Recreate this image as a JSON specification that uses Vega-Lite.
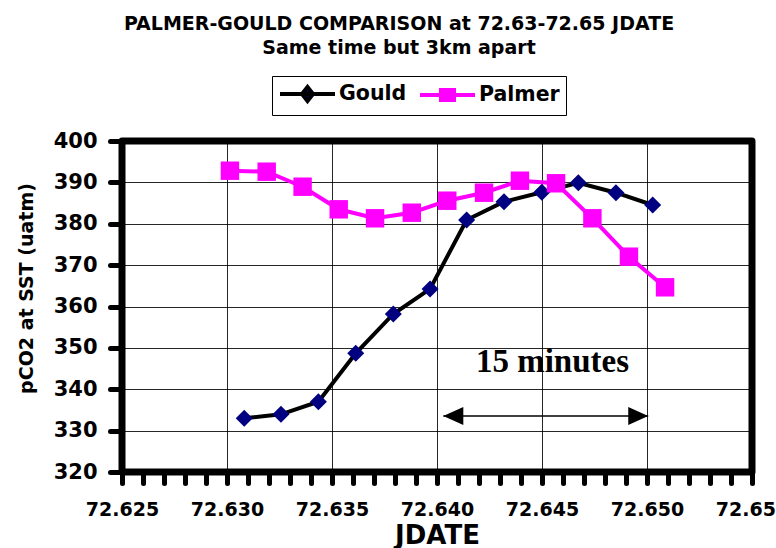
{
  "$schema": "https://vega.github.io/schema/vega-lite/v6.json",
  "width": 630,
  "height": 331,
  "autosize": {"type": "none"},
  "padding": {"left": 122, "top": 141, "right": 24, "bottom": 76},
  "background": "white",
  "title": {
    "text": "PALMER-GOULD COMPARISON at 72.63-72.65 JDATE",
    "subtitle": "Same time but 3km apart",
    "font": "DejaVu Sans", "fontSize": 19, "fontWeight": "bold", "color": "black",
    "subtitleFont": "DejaVu Sans", "subtitleFontSize": 19, "subtitleFontWeight": "bold", "subtitleColor": "black",
    "subtitlePadding": 5, "anchor": "middle", "frame": "group", "dx": -38, "offset": 18
  },
  "datasets": {
    "series": [
      {"series": "Gould", "jdate": 72.63082, "pco2": 332.98},
      {"series": "Gould", "jdate": 72.63257, "pco2": 333.95},
      {"series": "Gould", "jdate": 72.63435, "pco2": 336.99},
      {"series": "Gould", "jdate": 72.63613, "pco2": 348.69},
      {"series": "Gould", "jdate": 72.63792, "pco2": 358.19},
      {"series": "Gould", "jdate": 72.63967, "pco2": 364.23},
      {"series": "Gould", "jdate": 72.64141, "pco2": 380.91},
      {"series": "Gould", "jdate": 72.64319, "pco2": 385.33},
      {"series": "Gould", "jdate": 72.64499, "pco2": 387.6},
      {"series": "Gould", "jdate": 72.64673, "pco2": 389.92},
      {"series": "Gould", "jdate": 72.64852, "pco2": 387.5},
      {"series": "Gould", "jdate": 72.65027, "pco2": 384.53},
      {"series": "Palmer", "jdate": 72.63014, "pco2": 392.82},
      {"series": "Palmer", "jdate": 72.63189, "pco2": 392.58},
      {"series": "Palmer", "jdate": 72.6336, "pco2": 388.95},
      {"series": "Palmer", "jdate": 72.63532, "pco2": 383.49},
      {"series": "Palmer", "jdate": 72.63705, "pco2": 381.32},
      {"series": "Palmer", "jdate": 72.6388, "pco2": 382.67},
      {"series": "Palmer", "jdate": 72.64049, "pco2": 385.57},
      {"series": "Palmer", "jdate": 72.64224, "pco2": 387.5},
      {"series": "Palmer", "jdate": 72.64395, "pco2": 390.4},
      {"series": "Palmer", "jdate": 72.64567, "pco2": 389.78},
      {"series": "Palmer", "jdate": 72.6474, "pco2": 381.32},
      {"series": "Palmer", "jdate": 72.64914, "pco2": 372.04},
      {"series": "Palmer", "jdate": 72.65086, "pco2": 364.64}
    ],
    "arrow": [
      {"start": 72.6403, "end": 72.65006, "pco2": 333.53}
    ],
    "heads": [
      {"end": "left", "jdate": 72.6403, "pco2": 333.53},
      {"end": "right", "jdate": 72.65006, "pco2": 333.53}
    ],
    "note": [
      {"label": "15 minutes", "jdate": 72.6455, "pco2": 344.24}
    ]
  },
  "layer": [
    {
      "data": {"name": "series"},
      "transform": [{"filter": "datum.series === 'Gould'"}],
      "mark": {"type": "line", "strokeWidth": 4},
      "encoding": {
        "x": {
          "field": "jdate", "type": "quantitative",
          "scale": {"domain": [72.625, 72.655], "nice": false, "zero": false},
          "axis": {
            "values": [72.625, 72.626, 72.627, 72.628, 72.629, 72.63, 72.631, 72.632, 72.633, 72.634, 72.635, 72.636, 72.637, 72.638, 72.639, 72.64, 72.641, 72.642, 72.643, 72.644, 72.645, 72.646, 72.647, 72.648, 72.649, 72.65, 72.651, 72.652, 72.653, 72.654, 72.655],
            "tickCount": 100,
            "labelExpr": "round(datum.value*1000) % 5 == 0 ? format(datum.value, '.3f') : ''",
            "labelFont": "DejaVu Sans", "labelFontSize": 19, "labelFontWeight": "bold", "labelColor": "black",
            "labelPadding": 17, "labelFlush": false, "labelOverlap": false, "labelBound": false,
            "tickSize": 11, "tickWidth": 5, "tickCap": "round", "tickColor": "black",
            "grid": true, "gridColor": "black", "gridWidth": 1,
            "gridOpacity": {"condition": {"test": "round(datum.value*1000) % 5 == 0", "value": 0.85}, "value": 0},
            "domain": false,
            "title": "JDATE", "titleFont": "DejaVu Sans", "titleFontSize": 26, "titleFontWeight": "bold", "titleColor": "black",
            "titleX": 315, "titleY": 71, "titleAlign": "center", "titleBaseline": "alphabetic"
          }
        },
        "y": {
          "field": "pco2", "type": "quantitative",
          "scale": {"domain": [320, 400], "nice": false, "zero": false},
          "axis": {
            "values": [320, 330, 340, 350, 360, 370, 380, 390, 400],
            "tickCount": 20,
            "labelFont": "DejaVu Sans", "labelFontSize": 21, "labelFontWeight": "bold", "labelColor": "black",
            "labelPadding": 13, "labelFlush": false, "labelOverlap": false,
            "tickSize": 12, "tickWidth": 5, "tickCap": "round", "tickColor": "black",
            "grid": true, "gridColor": "black", "gridWidth": 1, "gridOpacity": 0.85,
            "domain": false,
            "title": "pCO2 at SST (uatm)", "titleFont": "DejaVu Sans", "titleFontSize": 19, "titleFontWeight": "bold", "titleColor": "black",
            "titleAngle": 270, "titleX": -90, "titleY": 147, "titleAlign": "center", "titleBaseline": "alphabetic"
          }
        },
        "stroke": {
          "field": "series", "type": "nominal",
          "scale": {"domain": ["Gould", "Palmer"], "range": ["black", "#FF00FF"]},
          "legend": {
            "orient": "none", "legendX": 150, "legendY": -65, "direction": "horizontal", "title": null,
            "labelFont": "DejaVu Sans", "labelFontSize": 20.5, "labelFontWeight": "bold", "labelColor": "black",
            "strokeColor": "black", "fillColor": "white", "padding": 6,
            "symbolSize": 400, "labelOffset": 37, "columnPadding": 5,
            "encode": {
              "symbols": {
                "update": {
                  "shape": {"signal": "datum.value === 'Gould' ? 'M-1,0H4.5M1.75,-0.7L2.3,0L1.75,0.7L1.2,0Z' : 'M-1,0H4.5M1.1,-0.5H2.4V0.5H1.1Z'"},
                  "fill": {"signal": "datum.value === 'Gould' ? '#000080' : '#FF00FF'"},
                  "stroke": {"signal": "datum.value === 'Gould' ? 'black' : '#FF00FF'"},
                  "strokeWidth": {"value": 4},
                  "size": {"value": 400},
                  "opacity": {"value": 1}
                }
              }
            }
          }
        }
      }
    },
    {
      "data": {"name": "series"},
      "transform": [{"filter": "datum.series === 'Gould'"}],
      "mark": {"type": "point", "shape": "diamond", "filled": true, "size": 289, "color": "#000080", "opacity": 1, "strokeWidth": 0},
      "encoding": {
        "x": {"field": "jdate", "type": "quantitative"},
        "y": {"field": "pco2", "type": "quantitative"}
      }
    },
    {
      "data": {"name": "series"},
      "transform": [{"filter": "datum.series === 'Palmer'"}],
      "mark": {"type": "line", "strokeWidth": 4},
      "encoding": {
        "x": {"field": "jdate", "type": "quantitative"},
        "y": {"field": "pco2", "type": "quantitative"},
        "stroke": {"field": "series", "type": "nominal"}
      }
    },
    {
      "data": {"name": "series"},
      "transform": [{"filter": "datum.series === 'Palmer'"}],
      "mark": {"type": "point", "shape": "square", "filled": true, "size": 340, "color": "#FF00FF", "opacity": 1, "strokeWidth": 0},
      "encoding": {
        "x": {"field": "jdate", "type": "quantitative"},
        "y": {"field": "pco2", "type": "quantitative"}
      }
    },
    {
      "data": {"name": "arrow"},
      "mark": {"type": "rule", "color": "black", "strokeWidth": 1.5},
      "encoding": {
        "x": {"field": "start", "type": "quantitative"},
        "x2": {"field": "end"},
        "y": {"field": "pco2", "type": "quantitative"}
      }
    },
    {
      "data": {"name": "heads"},
      "mark": {"type": "point", "filled": true, "size": 100, "color": "black", "opacity": 1, "strokeWidth": 0},
      "encoding": {
        "x": {"field": "jdate", "type": "quantitative"},
        "y": {"field": "pco2", "type": "quantitative"},
        "shape": {
          "field": "end", "type": "nominal",
          "scale": {"domain": ["left", "right"], "range": ["M0,0L4,-1.8L4,1.8Z", "M0,0L-4,-1.8L-4,1.8Z"]},
          "legend": null
        }
      }
    },
    {
      "data": {"name": "note"},
      "mark": {"type": "text", "font": "Liberation Serif", "fontSize": 33, "fontWeight": "bold", "color": "black", "align": "center", "baseline": "alphabetic"},
      "encoding": {
        "x": {"field": "jdate", "type": "quantitative"},
        "y": {"field": "pco2", "type": "quantitative"},
        "text": {"field": "label"}
      }
    }
  ],
  "config": {
    "view": {"stroke": "black", "strokeWidth": 7, "strokeJoin": "round"},
    "font": "DejaVu Sans"
  }
}
